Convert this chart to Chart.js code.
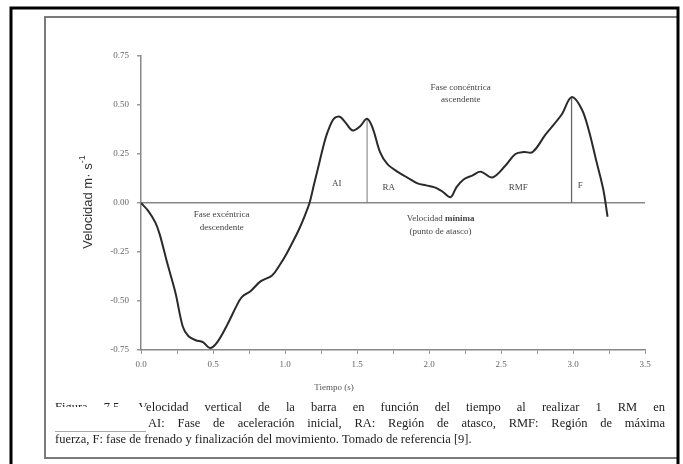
<!DOCTYPE html>
<html>
<head>
<meta charset="utf-8">
<script src="https://cdn.jsdelivr.net/npm/chart.js@4.4.1/dist/chart.umd.min.js"></script>
<style>
  html, body { margin: 0; padding: 0; background: #fff; }
  canvas { display: block; }
</style>
</head>
<body>
<canvas id="velocidadGraph" width="683" height="464"></canvas>
<script>
// tiempo (s) y velocidad vertical de la barra (m/s)
const tiempos = [0.00, 0.05, 0.10, 0.13, 0.18, 0.24, 0.29, 0.33, 0.38, 0.43, 0.48, 0.53, 0.60, 0.66, 0.70,
  0.76, 0.83, 0.91, 0.96, 1.01, 1.06, 1.10, 1.14, 1.17, 1.20, 1.23, 1.27, 1.30, 1.34, 1.38, 1.42, 1.47,
  1.52, 1.57, 1.61, 1.66, 1.71, 1.78, 1.85, 1.92, 1.98, 2.04, 2.09, 2.15, 2.19, 2.24, 2.30, 2.36, 2.44,
  2.53, 2.60, 2.66, 2.72, 2.81, 2.92, 2.99, 3.06, 3.11, 3.16, 3.21, 3.24];
const velocidades = [0.00, -0.04, -0.10, -0.16, -0.30, -0.46, -0.63, -0.68, -0.70, -0.71, -0.74, -0.71, -0.62, -0.53, -0.48,
  -0.45, -0.40, -0.37, -0.32, -0.26, -0.19, -0.13, -0.06, 0.00, 0.09, 0.18, 0.30, 0.37, 0.43, 0.44, 0.41, 0.37,
  0.39, 0.43, 0.38, 0.26, 0.20, 0.16, 0.13, 0.10, 0.09, 0.08, 0.06, 0.03, 0.08, 0.12, 0.14, 0.16, 0.13,
  0.19, 0.25, 0.26, 0.26, 0.35, 0.45, 0.54, 0.48, 0.37, 0.22, 0.07, -0.07];

// lineas verticales que separan AI/RA y RMF/F
const finAI = [1.57, 0.43];
const finRMF = [2.99, 0.54];

const ticksY = [-0.75, -0.50, -0.25, 0.00, 0.25, 0.50, 0.75];
const ticksX = [0.0, 0.5, 1.0, 1.5, 2.0, 2.5, 3.0, 3.5];

// etiquetas dentro del grafico: [texto, t, v]
const etiquetas = [
  ['AI', 1.36, 0.10],
  ['RA', 1.72, 0.08],
  ['RMF', 2.62, 0.08],
  ['F', 3.05, 0.09],
  ['Fase concéntrica', 2.22, 0.59],
  ['ascendente', 2.22, 0.525],
  ['Fase excéntrica', 0.56, -0.06],
  ['descendente', 0.56, -0.125]
];

const leyenda = [
  'Figura 7.5. Velocidad vertical de la barra en función del tiempo al realizar 1 RM en',
  'AI: Fase de aceleración inicial, RA: Región de atasco, RMF: Región de máxima',
  'fuerza, F: fase de frenado y finalización del movimiento. Tomado de referencia [9].'
];

const serif = '"Liberation Serif", "DejaVu Serif", serif';

const puntos = tiempos.map((t, i) => ({x: t, y: velocidades[i]}));

// dibuja una linea de texto justificada entre x0 y x1
function lineaJustificada(c, texto, x0, x1, y) {
  const palabras = texto.split(' ');
  let total = 0;
  palabras.forEach(p => total += c.measureText(p).width);
  const hueco = (x1 - x0 - total) / (palabras.length - 1);
  let x = x0;
  palabras.forEach(p => {
    c.fillText(p, x, y);
    x += c.measureText(p).width + hueco;
  });
}

const marcoPlugin = {
  id: 'marco',
  beforeDraw(chart) {
    const c = chart.ctx;
    c.save();
    c.fillStyle = '#fff';
    c.fillRect(0, 0, chart.width, chart.height);
    // marco gris interior
    c.strokeStyle = '#7a7a7a';
    c.lineWidth = 2;
    c.strokeRect(45, 17, 633, 441);
    // marco negro exterior
    c.strokeStyle = '#000';
    c.lineWidth = 3;
    c.strokeRect(11, 8, 667, 470);
    c.restore();
  },
  afterDraw(chart) {
    const c = chart.ctx;
    const sx = chart.scales.x, sy = chart.scales.y;
    c.save();

    // textos de las fases
    c.fillStyle = '#444';
    c.font = '9px ' + serif;
    c.textAlign = 'center';
    c.textBaseline = 'middle';
    etiquetas.forEach(([txt, t, v]) => {
      c.fillText(txt, sx.getPixelForValue(t), sy.getPixelForValue(v));
    });
    // "Velocidad mínima" con mínima en negrita
    const xm = sx.getPixelForValue(2.08);
    const ym = sy.getPixelForValue(-0.08);
    const a = 'Velocidad ', b = 'mínima';
    c.font = '9px ' + serif;
    const wa = c.measureText(a).width;
    c.font = 'bold 9px ' + serif;
    const wb = c.measureText(b).width;
    c.textAlign = 'left';
    c.font = '9px ' + serif;
    c.fillText(a, xm - (wa + wb) / 2, ym);
    c.font = 'bold 9px ' + serif;
    c.fillText(b, xm - (wa + wb) / 2 + wa, ym);
    c.font = '9px ' + serif;
    c.textAlign = 'center';
    c.fillText('(punto de atasco)', xm, sy.getPixelForValue(-0.145));

    // titulo eje x
    c.fillStyle = '#555';
    c.fillText('Tiempo (s)', 334, 388);

    // titulo eje y
    c.translate(88, 202);
    c.rotate(-Math.PI / 2);
    c.fillStyle = '#333';
    c.font = '13px "Liberation Sans", Arial, sans-serif';
    const base = 'Velocidad m· s';
    const wBase = c.measureText(base).width;
    c.font = '9px "Liberation Sans", Arial, sans-serif';
    const wSup = c.measureText('-1').width;
    const x0 = -(wBase + wSup) / 2;
    c.textAlign = 'left';
    c.font = '13px "Liberation Sans", Arial, sans-serif';
    c.fillText(base, x0, 0);
    c.font = '9px "Liberation Sans", Arial, sans-serif';
    c.fillText('-1', x0 + wBase, -5);
    c.setTransform(1, 0, 0, 1, 0, 0);

    // pie de figura
    c.fillStyle = '#222';
    c.font = '12.5px ' + serif;
    c.textAlign = 'left';
    c.textBaseline = 'alphabetic';
    lineaJustificada(c, leyenda[0], 55, 665, 411);
    lineaJustificada(c, leyenda[1], 148, 665, 427);
    c.fillText(leyenda[2], 55, 443);
    // recuadro blanco tapando el inicio
    c.fillStyle = '#fff';
    c.fillRect(50, 407, 96, 24);
    c.strokeStyle = '#aaa';
    c.lineWidth = 1;
    c.beginPath();
    c.moveTo(55, 431.5);
    c.lineTo(146, 431.5);
    c.stroke();
    c.restore();
  }
};

const ctx = document.getElementById('velocidadGraph').getContext('2d');

new Chart(ctx, {
  type: 'line',
  data: {
    datasets: [
      {
        data: puntos,
        borderColor: '#2a2a2a',
        borderWidth: 2,
        pointRadius: 0,
        tension: 0.35
      },
      {
        data: [{x: finAI[0], y: 0}, {x: finAI[0], y: finAI[1]}],
        borderColor: '#777',
        borderWidth: 1,
        pointRadius: 0
      },
      {
        data: [{x: finRMF[0], y: 0}, {x: finRMF[0], y: finRMF[1]}],
        borderColor: '#666',
        borderWidth: 1.3,
        pointRadius: 0
      }
    ]
  },
  options: {
    responsive: false,
    animation: false,
    layout: {padding: {top: 56, right: 38, left: 0, bottom: 0}},
    plugins: {legend: {display: false}, tooltip: {enabled: false}},
    scales: {
      x: {
        type: 'linear',
        min: 0,
        max: 3.5,
        afterFit: s => { s.height = 114; },
        afterBuildTicks: s => {
          s.ticks = [];
          for (let i = 0; i < ticksX.length; i++) {
            s.ticks.push({value: ticksX[i]});
            if (i < ticksX.length - 1) s.ticks.push({value: ticksX[i] + 0.25});
          }
        },
        ticks: {
          autoSkip: false,
          maxRotation: 0,
          padding: 5,
          color: '#666',
          font: {family: serif, size: 9},
          callback: v => ticksX.includes(v) ? v.toFixed(1) : ''
        },
        grid: {drawOnChartArea: false, tickLength: 4, color: '#999'},
        border: {color: '#888', width: 1.5}
      },
      y: {
        min: -0.75,
        max: 0.75,
        afterFit: s => { s.width = 141; },
        afterBuildTicks: s => { s.ticks = ticksY.map(v => ({value: v})); },
        ticks: {
          padding: 8,
          color: '#666',
          font: {family: serif, size: 9},
          callback: v => v.toFixed(2)
        },
        grid: {
          color: c => c.tick && c.tick.value === 0 ? '#888' : 'rgba(0,0,0,0)',
          lineWidth: 1.5,
          tickColor: '#999',
          tickLength: 4
        },
        border: {color: '#888', width: 1.5}
      }
    }
  },
  plugins: [marcoPlugin]
});
</script>
</body>
</html>
